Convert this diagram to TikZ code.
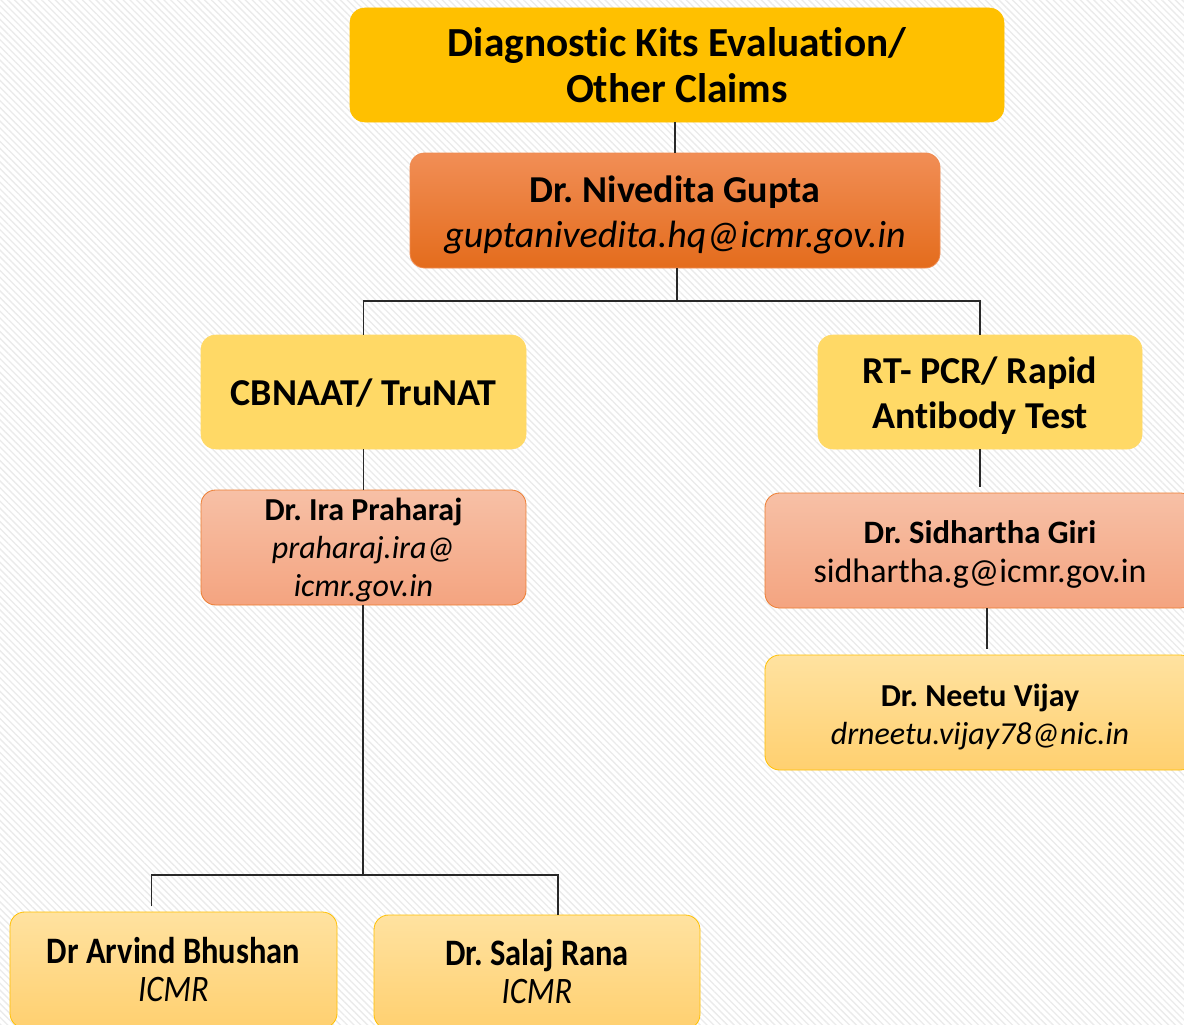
\documentclass[tikz,border=0pt]{standalone}
\usepackage{fontspec}
\setmainfont{Carlito}[Ligatures={NoCommon}]
\usetikzlibrary{patterns.meta,calc}
\frenchspacing
\definecolor{gold}{RGB}{255,192,0}
\definecolor{lgold}{RGB}{255,217,102}
\definecolor{orgT}{RGB}{241,142,86}
\definecolor{orgB}{RGB}{228,108,28}
\definecolor{salT}{RGB}{247,192,166}
\definecolor{salB}{RGB}{244,164,128}
\definecolor{salD}{RGB}{237,125,49}
\definecolor{ylT}{RGB}{255,226,160}
\definecolor{ylB}{RGB}{255,208,112}
\definecolor{lineC}{RGB}{40,40,40}
\newcommand\fs[2]{\fontsize{#1}{#2}\selectfont}
\newcommand\cond[1]{\scalebox{0.87}[1]{#1}}
\tikzset{
  base/.style={rounded corners=11pt, inner sep=0pt, align=center, text=black},
  topbox/.style={base, fill=gold, draw=gold},
  orgbox/.style={base, top color=orgT, bottom color=orgB, draw=orgT!90!orgB, line width=0.6pt},
  lgbox/.style={base, fill=lgold, draw=lgold},
  salbox/.style={base, top color=salT, bottom color=salB, draw=salD, line width=0.6pt},
  ylbox/.style={base, top color=ylT, bottom color=ylB, draw=gold, line width=0.6pt},
  txt/.style={inner sep=0pt, align=center, text=black},
  conn/.style={draw=lineC, line width=1.3pt},
}
\begin{document}
\begin{tikzpicture}[x=0.75pt, y=-0.75pt]
\useasboundingbox (0,0) rectangle (1184,1024);
\clip (0,0) rectangle (1184,1024);
\fill[white] (0,0) rectangle (1184,1024);
\fill[pattern={Lines[angle=-45, distance=3.6pt, line width=1pt]}, pattern color=black!8] (0,0) rectangle (1184,1024);

% boxes
\node[topbox, minimum width=654*0.75pt, minimum height=114*0.75pt] (top) at (677,65) {};
\node[orgbox, minimum width=530*0.75pt, minimum height=115*0.75pt] (niv) at (675,210.5) {};
\node[lgbox, minimum width=325*0.75pt, minimum height=114*0.75pt] (cb) at (363.5,392) {};
\node[lgbox, minimum width=324*0.75pt, minimum height=114*0.75pt] (rt) at (980,392) {};
\node[salbox, minimum width=325*0.75pt, minimum height=115*0.75pt] (ira) at (363.5,547.5) {};
\node[salbox, minimum width=430*0.75pt, minimum height=115*0.75pt] (sid) at (980,550.5) {};
\node[ylbox, minimum width=430*0.75pt, minimum height=115*0.75pt] (neetu) at (980,712.5) {};
\node[ylbox, minimum width=327*0.75pt, minimum height=116*0.75pt] (arv) at (173.5,970) {};
\node[ylbox, minimum width=326*0.75pt, minimum height=114*0.75pt] (sal) at (537,972) {};

% texts
\node[txt, font={\fs{31}{35}\bfseries}] (topT) at ($(top.center)+(0,0)$)
  {Diagnostic Kits Evaluation/\\ Other Claims};
\node[txt, font={\fs{28.5}{33.75}}] (nivT) at ($(niv.center)+(0,4)$)
  {\textbf{Dr. Nivedita Gupta}\\ \textit{guptanivedita.hq@icmr.gov.in}};
\node[txt, font={\fs{28.5}{33.75}\bfseries}] (cbT) at ($(cb.center)+(0,1)$)
  {CBNAAT/ TruNAT};
\node[txt, font={\fs{28.5}{33.75}\bfseries}] (rtT) at ($(rt.center)+(0,3.5)$)
  {RT- PCR/ Rapid\\ Antibody Test};
\node[txt, font={\fs{24}{28.5}}] (iraT) at ($(ira.center)+(0,3)$)
  {\textbf{Dr. Ira Praharaj}\\ \textit{praharaj.ira@}\\ \textit{icmr.gov.in}};
\node[txt, font={\fs{24.5}{29.25}}] (sidT) at ($(sid.center)+(0,4)$)
  {\textbf{Dr. Sidhartha Giri}\\ {\fs{25.5}{29.25}sidhartha.g@icmr.gov.in}};
\node[txt, font={\fs{24}{28.5}}] (neetuT) at ($(neetu.center)+(0,4.5)$)
  {\textbf{Dr. Neetu Vijay}\\ \textit{drneetu.vijay78@nic.in}};
\node[txt, font={\fs{28}{28.5}}] (arvT) at (arv.center)
  {\cond{\textbf{Dr Arvind Bhushan}}\\ \cond{\textit{ICMR}}};
\node[txt, font={\fs{28}{28.5}}] (salT) at (sal.center)
  {\cond{\textbf{Dr. Salaj Rana}}\\ \cond{\textit{ICMR}}};

% connectors
\coordinate (j1) at (677,301);
\coordinate (j2) at (363,875);
\draw[conn] (niv.north) -- (niv.north |- top.south);
\draw[conn] (niv.south -| j1) -- (j1);
\draw[conn] (cb.north) |- (j1) -| (rt.north);
\draw[conn] (cb.south) -- (ira.north);
\draw[conn] (ira.south -| j2) -- (j2);
\draw[conn] ([xshift=-22*0.75pt,yshift=4pt]arv.north) |- (j2) -| ([xshift=21*0.75pt]sal.north);
\draw[conn] (rt.south) -- ([yshift=4pt]sid.north);
\draw[conn] ([xshift=7*0.75pt]sid.south) -- ([xshift=7*0.75pt,yshift=4pt]neetu.north);
\end{tikzpicture}
\end{document}
